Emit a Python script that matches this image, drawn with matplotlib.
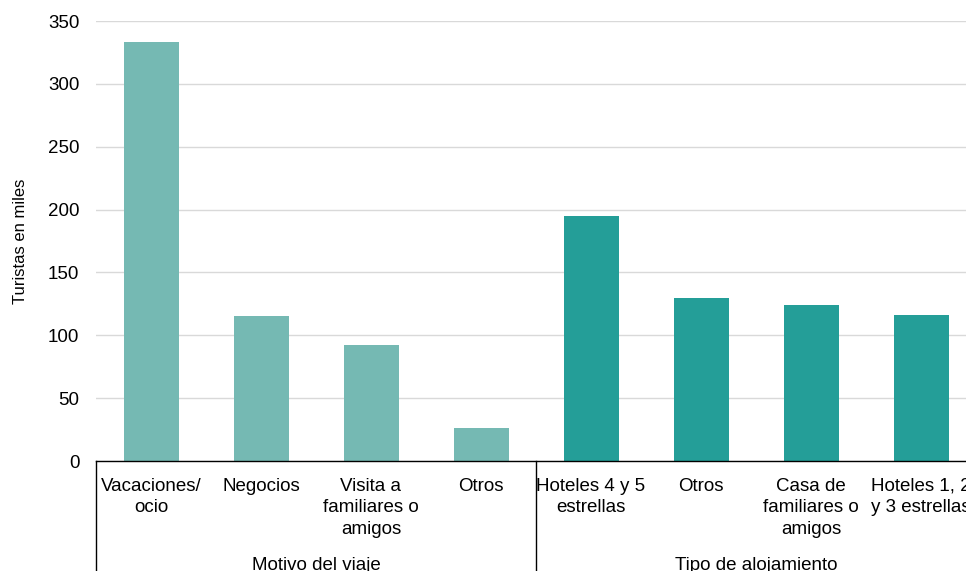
import matplotlib.pyplot as plt
from matplotlib import transforms

plt.rcParams['font.family'] = ['Liberation Sans', 'DejaVu Sans']

# datos (miles de turistas)
grupos = ['Motivo del viaje', 'Tipo de alojamiento']
categorias_motivo = ['Vacaciones/\nocio', 'Negocios', 'Visita a\nfamiliares o\namigos', 'Otros']
valores_motivo = [333, 115, 92, 26]
categorias_aloj = ['Hoteles 4 y 5\nestrellas', 'Otros', 'Casa de\nfamiliares o\namigos', 'Hoteles 1, 2\ny 3 estrellas']
valores_aloj = [195, 130, 124, 116]

color_motivo = '#75b9b3'
color_aloj = '#249e98'

W, H = 966, 571
fig = plt.figure(figsize=(W / 100, H / 100), dpi=100)
# el eje sigue mas alla del borde derecho, como en el original
ax = fig.add_axes([96 / W, (H - 461) / H, 880 / W, 440 / H])

etiquetas = categorias_motivo + categorias_aloj
n1 = len(categorias_motivo)
x1 = list(range(n1))
x2 = list(range(n1, n1 + len(categorias_aloj)))

ax.bar(x1, valores_motivo, width=0.5, color=color_motivo, zorder=2)
ax.bar(x2, valores_aloj, width=0.5, color=color_aloj, zorder=2)

ax.set_xlim(-0.5, len(etiquetas) - 0.5)
ax.set_ylim(0, 350)
ax.set_yticks(range(0, 351, 50))
ax.yaxis.grid(True, color='#d9d9d9', linewidth=1, zorder=0)
ax.set_axisbelow(True)

for s in ['top', 'right', 'left']:
    ax.spines[s].set_visible(False)
ax.spines['bottom'].set_color('black')
ax.spines['bottom'].set_linewidth(1)

ax.set_xticks(range(len(etiquetas)))
ax.set_xticklabels(etiquetas, fontsize=13.5, linespacing=1.35)
ax.tick_params(axis='x', length=0, pad=12)
ax.tick_params(axis='y', length=0, pad=12, labelsize=13.5)

ax.set_ylabel('Turistas en miles', fontsize=12)
ax.yaxis.set_label_coords((28 - 96) / 880, 0.5)

# separadores de grupos y etiquetas de grupo
trans = transforms.blended_transform_factory(ax.transData, ax.transAxes)
for xs in [-0.5, n1 - 0.5, len(etiquetas) - 0.5]:
    ax.plot([xs, xs], [0, -0.4], color='black', linewidth=1,
            transform=trans, clip_on=False)

centros = [(x1[0] + x1[-1]) / 2, (x2[0] + x2[-1]) / 2]
for c, g in zip(centros, grupos):
    ax.text(c, -(565 - 461) / 440, g, transform=trans, ha='center',
            va='center', fontsize=13.5)

fig.savefig('out.png', dpi=100)
